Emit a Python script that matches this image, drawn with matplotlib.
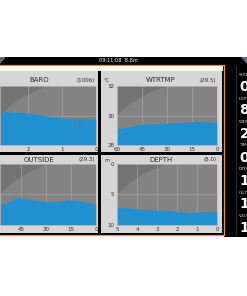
import matplotlib
matplotlib.use('Agg')
import matplotlib.pyplot as plt
from matplotlib.patches import Rectangle, Ellipse, Polygon

plt.rcParams['font.family'] = ['Liberation Sans Narrow', 'DejaVu Sans']

# BARO (hours ago -> hPa)
baro_t = [2.82, 2.70, 2.58, 2.46, 2.34, 2.24, 2.12, 2.00, 1.90, 1.84, 1.74, 1.65,
          1.55, 1.45, 1.35, 1.25, 1.15, 1.06, 0.96, 0.86, 0.76, 0.72, 0.71, 0.70,
          0.62, 0.60, 0.59, 0.58, 0.47, 0.38, 0.30, 0.29, 0.28, 0.18, 0.08, 0.0]
baro_v = [1006.75, 1006.70, 1006.80, 1006.65, 1006.72, 1006.62, 1006.68, 1006.50,
          1006.45, 1006.30, 1006.25, 1006.10, 1006.05, 1005.90, 1005.78, 1005.80,
          1005.68, 1005.63, 1005.55, 1005.45, 1005.48, 1005.45, 1003.10, 1005.42,
          1005.45, 1005.42, 1003.20, 1005.40, 1005.42, 1005.35, 1005.38, 1003.70,
          1005.35, 1005.30, 1005.28, 1005.22]

# WTRTMP (minutes ago -> degC)
wt_t = [60, 56, 52, 48, 45, 42, 38, 34, 30, 26, 22, 18, 14, 12, 9, 6, 3, 0]
wt_v = [29.12, 29.16, 29.24, 29.36, 29.42, 29.42, 29.42, 29.45, 29.47, 29.50,
        29.54, 29.55, 29.58, 29.60, 29.59, 29.58, 29.55, 29.51]

# OUTSIDE (minutes ago -> degC)
out_t = [57.6, 53.6, 51, 49.6, 47.6, 45.5, 43.6, 39.6, 33.6, 27.6, 21.6, 17.6,
         14, 11.6, 8, 5.6, 2.5, 0]
out_v = [29.39, 29.56, 29.90, 30.26, 30.48, 30.45, 30.38, 30.10, 29.93, 29.82,
         29.93, 30.10, 30.05, 29.98, 29.90, 29.72, 29.55, 29.39]

# DEPTH (minutes ago -> m)
dp_t = [5.0, 4.85, 4.5, 4.18, 3.85, 3.5, 3.18, 2.85, 2.52, 2.2, 2.02, 1.75, 1.52,
        1.44, 1.40, 1.35, 1.27, 1.0, 0.68, 0.35, 0.0]
dp_v = [7.14, 7.16, 7.20, 7.26, 7.43, 7.50, 7.54, 7.60, 7.66, 7.75, 7.82, 7.88,
        7.92, 8.05, 8.20, 8.05, 7.92, 7.86, 7.82, 7.82, 7.82]

side_labels = ['SOG', 'DEPTH', 'WTRTMP', 'TIME', 'DTD', 'OUTHUM', 'VSUPPLY']
side_values = ['0', '8', '29', '09:1', '1.', '15', '12']

W, H = 247, 296
BLUE = '#2190d0'
PANEL = '#d6d6d6'
ORANGE = '#e49a22'

fig = plt.figure(figsize=(W / 100, H / 100), dpi=100)
fig.patch.set_facecolor('white')

bg = fig.add_axes([0, 0, 1, 1])
bg.set_xlim(0, W)
bg.set_ylim(H, 0)
bg.axis('off')

# device screen
bg.add_patch(Rectangle((0, 57), W, 178, fc='black', ec='none'))
bg.add_patch(Rectangle((224, 57), W - 224, 180, fc='black', ec='none'))
bg.add_patch(Polygon([(0, 57), (6, 57), (0, 64)], fc='#5d6a75', ec='none'))
bg.add_patch(Polygon([(241, 57), (247, 57), (247, 64)], fc='#5d6a75', ec='none'))
bg.text(118, 60.8, '09:11:08  8.8m', color='white', fontsize=3.6,
        ha='center', va='center')

# orange frame + white strip
bg.plot([0, 224, 224, 0], [65, 65, 234.5, 234.5], color=ORANGE, lw=0.9)
bg.add_patch(Rectangle((0, 66), 223, 4.5, fc='white', ec='none'))
bg.plot([236, 236], [66, 234], color='#2b2b2b', lw=0.8)

# panel frames
bg.add_patch(Rectangle((-1, 71), 99, 81, fc=PANEL, ec='none'))
bg.add_patch(Rectangle((101, 71), 121, 81, fc=PANEL, ec='none'))
bg.add_patch(Rectangle((-1, 155), 99, 78, fc=PANEL, ec='none'))
bg.add_patch(Rectangle((101, 155), 121, 78, fc=PANEL, ec='none'))

tfont = dict(fontsize=5, color='#2e2e2e', va='center')
bg.text(39, 80.5, 'BARO', ha='center', **tfont)
bg.text(95, 80.5, '(1006)', ha='right', fontsize=4, color='#2e2e2e', va='center')
bg.text(161, 80.5, 'WTRTMP', ha='center', **tfont)
bg.text(216, 80.5, '(29.5)', ha='right', fontsize=4, color='#2e2e2e', va='center')
bg.text(39, 159.5, 'OUTSIDE', ha='center', **tfont)
bg.text(95, 159.5, '(29.3)', ha='right', fontsize=4, color='#2e2e2e', va='center')
bg.text(161, 159.5, 'DEPTH', ha='center', **tfont)
bg.text(216, 159.5, '(8.0)', ha='right', fontsize=4, color='#2e2e2e', va='center')
bg.text(106, 81, '°C', ha='center', fontsize=3.6, color='#2e2e2e', va='center')
bg.text(107, 160, 'm', ha='center', fontsize=3.6, color='#2e2e2e', va='center')

# sidebar (cut by the right edge, as in the photo)
for i, (lab, val) in enumerate(zip(side_labels, side_values)):
    y = 75 + i * 23.5
    bg.text(239, y, lab, color='#cfcfcf', fontsize=3.2, ha='left', va='center')
    bg.text(239.5, y + 12, val, color='white', fontsize=10, fontweight='bold',
            ha='left', va='center')


def px_axes(x0, y0, x1, y1):
    return fig.add_axes([x0 / W, 1 - y1 / H, (x1 - x0) / W, (y1 - y0) / H])


def style(ax, xlim, ylim, xticks, grid_y):
    ax.set_facecolor('#737373')
    ax.add_patch(Ellipse((1.1, -0.2), 2.57, 2.71, transform=ax.transAxes,
                         fc='#838383', ec='none', zorder=0))
    ax.set_xlim(*xlim)
    ax.set_ylim(*ylim)
    ax.set_xticks(xticks)
    ax.set_xticklabels([str(t) for t in xticks])
    for t in xticks:
        ax.axvline(t, color='#a5a5a5', lw=0.5, zorder=1)
    ax.axhline(grid_y, color='#a5a5a5', lw=0.5, zorder=1)
    ax.tick_params(length=0, labelsize=4, pad=1.2, colors='#2e2e2e')
    for s in ax.spines.values():
        s.set_color('#bcbcbc')
        s.set_linewidth(0.5)


ax1 = px_axes(0, 86, 96, 145)
style(ax1, (2.82, 0), (1000, 1012), [2, 1, 0], 1006)
ax1.fill_between(baro_t, 1000, baro_v, color=BLUE, lw=0, zorder=2)
ax1.set_yticks([])

ax2 = px_axes(117, 86, 217, 145)
style(ax2, (60, 0), (28, 32), [60, 45, 30, 15, 0], 30)
ax2.fill_between(wt_t, 28, wt_v, color=BLUE, lw=0, zorder=2)
ax2.set_yticks([28, 30, 32])
ax2.tick_params(axis='y', pad=2)

ax3 = px_axes(0, 164, 96, 225)
style(ax3, (57.6, 0), (26, 36), [45, 30, 15, 0], 31)
ax3.fill_between(out_t, 26, out_v, color=BLUE, lw=0, zorder=2)
ax3.set_yticks([])

ax4 = px_axes(117, 164, 217, 225)
style(ax4, (5, 0), (10, 0), [5, 4, 3, 2, 1, 0], 5)
ax4.fill_between(dp_t, dp_v, 10, color=BLUE, lw=0, zorder=2)
ax4.set_yticks([0, 5, 10])
ax4.tick_params(axis='y', pad=2)

fig.savefig('out.png', dpi=100)
